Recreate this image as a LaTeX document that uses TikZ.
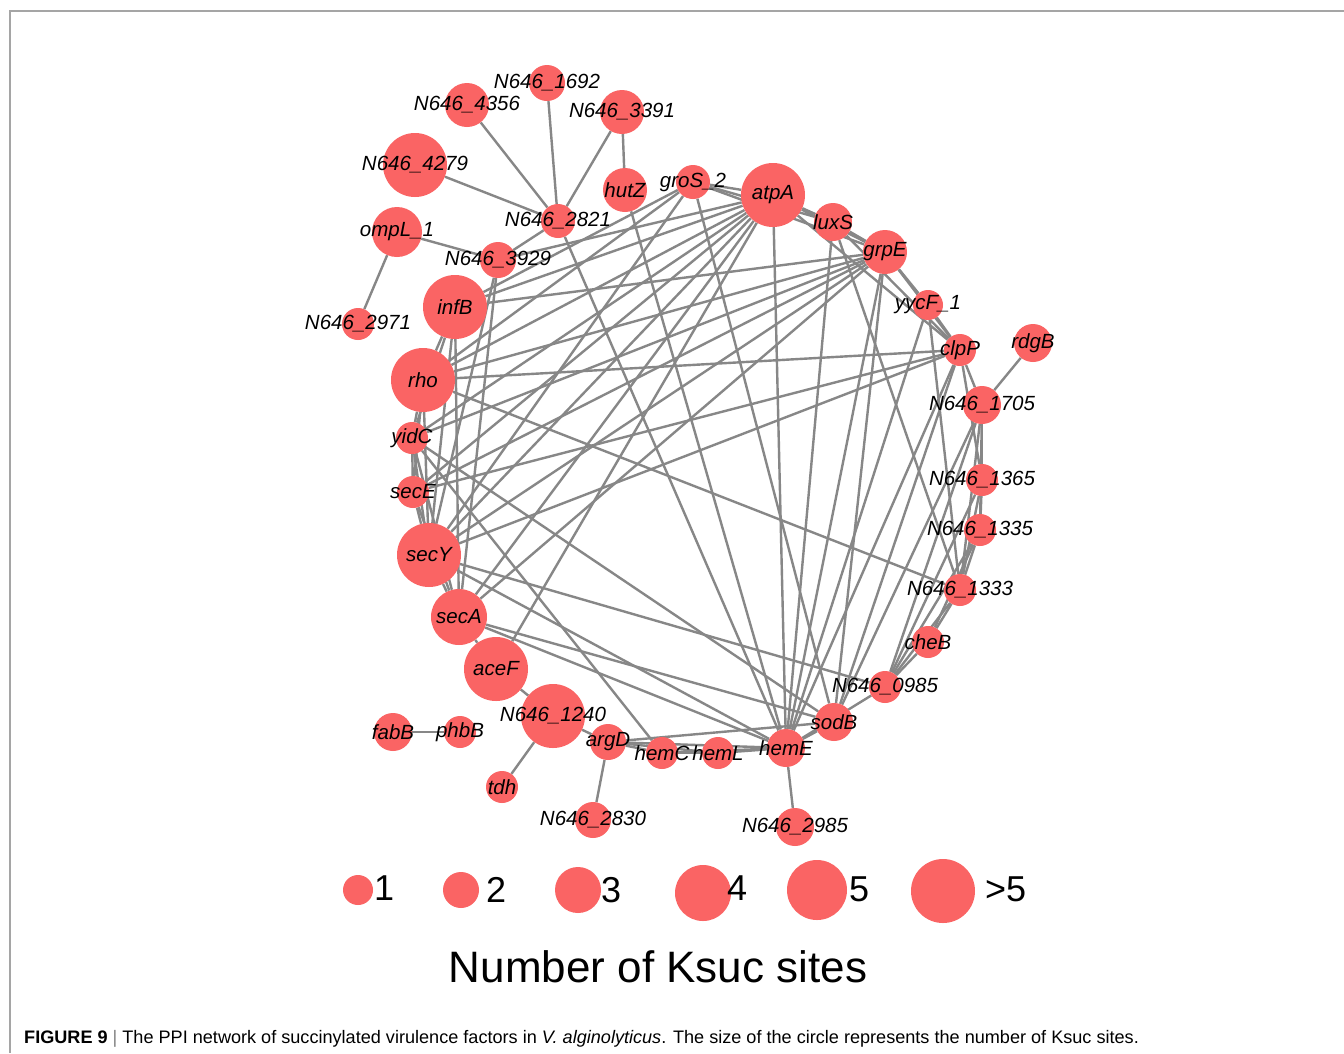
\documentclass[tikz,border=0pt]{standalone}
\usepackage{fontspec}
\setmainfont{Liberation Sans}
\definecolor{nodered}{RGB}{250,100,100}
\definecolor{edgegray}{RGB}{135,135,135}
\definecolor{framegray}{RGB}{165,165,165}
\pgfdeclarelayer{back}
\pgfdeclarelayer{bg}
\pgfsetlayers{back,bg,main}
\begin{document}
\begin{tikzpicture}[x=1pt,y=-1pt,
  nd/.style={circle,fill=nodered,draw=none,inner sep=0pt,minimum size=#1},
  lbl/.style={font=\fontsize{20.5}{22}\selectfont\itshape,text=black,inner sep=0pt},
  ed/.style={draw=edgegray,line width=2.4pt},
  legtxt/.style={font=\fontsize{36}{40}\selectfont,inner sep=0pt,anchor=west},
  frame/.style={draw=framegray,line width=1.5pt}]
\useasboundingbox (0,0) rectangle (1344,1053);
\begin{pgfonlayer}{back}
\fill[white] (0,0) rectangle (1344,1053);
\draw[frame] (10,1053) -- (10,11) -- (1344,11);
\end{pgfonlayer}
% nodes: name/x/y/diameter
\foreach \n/\x/\y/\d in {
 n1692/547/83/36, n4356/467/105/44, n3391/622/112/44, n4279/415/165/64,
 hutZ/625/190/44, groS/693/182/34, atpA/773/195/64, luxS/833/222/38,
 grpE/885/252/44, n2821/558/221/34, ompL/397/232/50, n3929/498/260/36,
 infB/455/307/64, n2971/358/324/32, yycF/928/305/30, clpP/960/350/32,
 rdgB/1033/343/38, rho/423/380/64, n1705/982/405/38, yidC/412/438/32,
 n1365/982/480/32, secE/413/492/32, n1335/980/530/32, secY/429/555/64,
 n1333/960/590/32, secA/459/617/56, cheB/928/642/32, aceF/496/669/64,
 n0985/885/687/32, n1240/553/716/64, sodB/834/722/38, fabB/393/732/38,
 phbB/460/732/32, argD/608/742/36, hemC/662/753/32, hemL/718/753/32,
 hemE/786/748/38, tdh/502/787/32, n2830/593/820/36, n2985/795/827/38}
 {\node[nd=\d pt] (\n) at (\x,\y) {};}
% edges
\begin{pgfonlayer}{bg}
\foreach \a/\b in {
 n4356/n2821, n1692/n2821, n3391/n2821, n3391/hutZ, n4279/n2821,
 n2821/n3929, ompL/n3929, ompL/n2971, rdgB/n1705, fabB/phbB,
 n1240/tdh, argD/n2830, hemE/n2985, n1240/aceF, secA/aceF, n1240/argD,
 argD/hemC, hemC/hemL, hemL/hemE, argD/hemE, hemC/hemE, argD/hemL,
 hemE/sodB, argD/sodB,
 n2821/hemE, hutZ/hemE, groS/atpA, groS/luxS, groS/grpE, groS/sodB,
 groS/infB, groS/secY, groS/rho,
 atpA/luxS, atpA/grpE, atpA/clpP, atpA/hemE, atpA/infB, atpA/rho,
 atpA/yidC, atpA/secE, atpA/secY, atpA/secA, atpA/aceF, atpA/n3929,
 luxS/grpE, luxS/clpP, luxS/n1333, luxS/hemE,
 grpE/yycF, grpE/clpP, grpE/infB, grpE/rho, grpE/yidC, grpE/secE,
 grpE/secY, grpE/secA, grpE/hemE, grpE/sodB,
 yycF/clpP, yycF/n1333, yycF/hemE, clpP/n1705, clpP/n1365, clpP/rho,
 clpP/secE, clpP/secY, clpP/hemE, clpP/sodB,
 rho/n1333, rho/yidC, rho/secE, rho/secY, rho/infB,
 yidC/secE, yidC/secY, yidC/secA, secE/secY, secE/secA, secY/secA,
 infB/secY, infB/secA, infB/yidC, secY/hemE, secY/n0985, secA/hemE,
 secA/sodB, yidC/sodB,
 n3929/secA, n3929/secY, yidC/hemC,
 n1705/n1365, n1705/n1335, n1705/n1333, n1705/n0985,
 n1365/n1335, n1365/n1333, n1365/n0985, n1335/n1333, n1335/n0985,
 n1333/cheB, n1333/n0985, cheB/n0985, n1335/cheB,
 sodB/n1705, hemE/n0985}
 {\draw[ed] (\a) -- (\b);}
\end{pgfonlayer}
% labels
\foreach \n/\t in {
 n1692/N646\_1692, n4356/N646\_4356, n3391/N646\_3391, n4279/N646\_4279,
 hutZ/hutZ, groS/groS\_2, atpA/atpA, luxS/luxS, grpE/grpE,
 n2821/N646\_2821, ompL/ompL\_1, n3929/N646\_3929, infB/infB,
 n2971/N646\_2971, yycF/yycF\_1, clpP/clpP, rdgB/rdgB, rho/rho,
 n1705/N646\_1705, yidC/yidC, n1365/N646\_1365, secE/secE,
 n1335/N646\_1335, secY/secY, n1333/N646\_1333, secA/secA, cheB/cheB,
 aceF/aceF, n0985/N646\_0985, n1240/N646\_1240, sodB/sodB, fabB/fabB,
 phbB/phbB, argD/argD, hemC/hemC, hemL/hemL, hemE/hemE, tdh/tdh,
 n2830/N646\_2830, n2985/N646\_2985}
 {\node[lbl] (t-\n) at (\n.center) {\t};}
% legend
\node[nd=30pt] (l1) at (358,890) {};
\node[nd=36pt] (l2) at (461,890) {};
\node[nd=46pt] (l3) at (578,890) {};
\node[nd=56pt] (l4) at (703,893) {};
\node[nd=60pt] (l5) at (817,890) {};
\node[nd=64pt] (l6) at (943,891) {};
\node[legtxt] (lt1) at (374,888) {1};
\node[legtxt] (lt2) at (486,890) {2};
\node[legtxt] (lt3) at (601,890) {3};
\node[legtxt] (lt4) at (727,888) {4};
\node[legtxt] (lt5) at (849,889) {5};
\node[legtxt] (lt6) at (985,889) {>5};
\node[font=\fontsize{44}{48}\selectfont,inner sep=0pt] (ttl) at (658,967) {Number of Ksuc sites};
\node[font=\fontsize{18.1}{20}\selectfont,inner sep=0pt,anchor=west] (cap) at (24,1039)
 {\textbf{FIGURE 9} {\color{gray}|} The PPI network of succinylated virulence factors in \textit{V. alginolyticus}. The size of the circle represents the number of Ksuc sites.};
\end{tikzpicture}
\end{document}
